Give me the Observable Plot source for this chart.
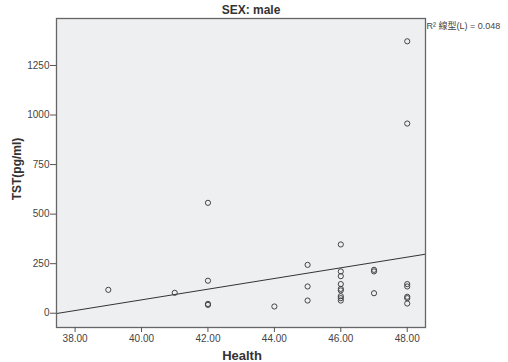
<!DOCTYPE html>
<html>
<head>
<meta charset="utf-8">
<script src="https://cdn.jsdelivr.net/npm/d3@7"></script>
<script src="https://cdn.jsdelivr.net/npm/@observablehq/plot@0.6"></script>
<style>
  html, body { margin: 0; padding: 0; background: #fff; }
  svg { font-family: "Liberation Sans", Arial, sans-serif; }
</style>
</head>
<body>
<div id="chart"></div>
<script>
const title = "SEX: male";
const xLabel = "Health";
const yLabel = "TST(pg/ml)";
const r2Label = "R² 線型(L) = 0.048";

const health = [39, 41, 42, 42, 42, 42, 44, 45, 45, 45,
  46, 46, 46, 46, 46, 46, 46, 46, 46,
  47, 47, 47,
  48, 48, 48, 48, 48, 48, 48];
const tst = [118, 103, 557, 164, 47, 42, 34, 244, 135, 64,
  347, 211, 187, 147, 123, 115, 86, 76, 64,
  219, 211, 101,
  1372, 957, 147, 135, 83, 76, 49];

const xTicks = [38, 40, 42, 44, 46, 48];
const yTicks = [0, 250, 500, 750, 1000, 1250];

const xDomain = [37.44, 48.55];
const yDomain = [-72, 1487];

const points = health.map((h, i) => ({h, t: tst[i]}));

// least-squares linear fit, extended across the whole frame (as SPSS does)
const mx = d3.mean(health), my = d3.mean(tst);
const sxy = d3.sum(health, (h, i) => (h - mx) * (tst[i] - my));
const sxx = d3.sum(health, h => (h - mx) ** 2);
const slope = sxy / sxx, intercept = my - slope * mx;
const fit = xDomain.map(h => ({h, t: intercept + slope * h}));

const chart = Plot.plot({
  width: 508,
  height: 362,
  marginLeft: 56,
  marginRight: 83,
  marginTop: 18,
  marginBottom: 35,
  style: {fontFamily: '"Liberation Sans", Arial, sans-serif', background: "#fff"},
  x: {domain: xDomain},
  y: {domain: yDomain},
  marks: [
    Plot.frame({fill: "#eeeff1", stroke: "none"}),
    Plot.line(fit, {x: "h", y: "t", stroke: "#333", strokeWidth: 1, clip: true}),
    Plot.dot(points, {x: "h", y: "t", r: 2.6, stroke: "#444", strokeWidth: 1, fill: "none"}),
    Plot.frame({stroke: "#666", strokeWidth: 1.3}),
    Plot.axisX({ticks: xTicks, tickFormat: d => d.toFixed(2), tickSize: 5, tickPadding: 2,
      fontSize: 10, color: "#444", stroke: "#555", label: null}),
    Plot.axisY({ticks: yTicks, tickFormat: d => String(d), tickSize: 6, tickPadding: 1,
      fontSize: 10, color: "#444", stroke: "#555", label: null}),
    Plot.text([xLabel], {frameAnchor: "bottom", lineAnchor: "middle", dy: 28, text: d => d,
      fontSize: 13, fontWeight: "bold", fill: "#333", dx: 1}),
    Plot.text([yLabel], {frameAnchor: "left", textAnchor: "middle", lineAnchor: "middle",
      dx: -39, rotate: -90, text: d => d, fontSize: 12,
      fontWeight: "bold", fill: "#333", dy: -4}),
    Plot.text([title], {frameAnchor: "top", lineAnchor: "middle", dy: -8, dx: 10, text: d => d,
      fontSize: 12, fontWeight: "bold", fill: "#333"}),
    Plot.text([r2Label], {frameAnchor: "top-right", lineAnchor: "middle", textAnchor: "start",
      dx: 1, dy: 8, text: d => d, fontSize: 9, fill: "#444",
      fontFamily: '"Liberation Sans", "Noto Sans CJK TC", sans-serif'})
  ]
});
document.getElementById("chart").appendChild(chart);
</script>
</body>
</html>
